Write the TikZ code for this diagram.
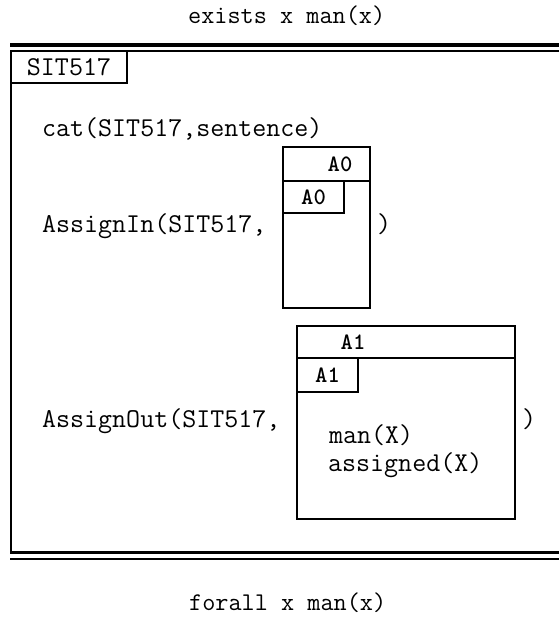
\documentclass[tikz,border=0pt]{standalone}
\begin{document}
\begin{tikzpicture}[x=1pt,y=-1pt,
  tt/.style={font=\fontsize{27.2}{32}\selectfont\ttfamily, inner sep=0pt, anchor=base west},
  ttsmall/.style={font=\fontsize{25.5}{30}\selectfont\ttfamily, inner sep=0pt, anchor=base west},
  lbl/.style={font=\fontsize{23.5}{28}\selectfont\ttfamily\bfseries, inner sep=0pt},
  frame/.style={line width=2pt},
  thickrule/.style={line width=3.2pt}]
\useasboundingbox (0,0) rectangle (559,619);
\clip (0,0) rectangle (559,619);
% outer rules and frame
\draw[thickrule] (10,45) -- (560,45);
\draw[line width=1.8pt] (10,51) -- (560,51);
\draw[frame] (11,50) -- (11,553);
\draw[line width=3pt] (10,552) -- (560,552);
\draw[frame] (10,559) -- (560,559);
% SIT517 tab
\draw[frame] (11,51) rectangle (127,83);
\node[lbl, font=\fontsize{27.2}{32}\selectfont\ttfamily] (sit) at (69,67) {SIT517};
% texts
\node[ttsmall] (top) at (188,23) {exists x man(x)};
\node[tt] (cat) at (42,136) {cat(SIT517,sentence)};
\node[tt] (ain) at (42,232) {AssignIn(SIT517,};
\node[tt] (ainclose) at (377,232) {)};
\node[tt] (aout) at (42,427) {AssignOut(SIT517,};
\node[tt] (aoutclose) at (522,427) {)};
\node[ttsmall] (bot) at (189,610) {forall x man(x)};
% A0 box
\draw[frame] (283,147) rectangle (370,308);
\draw[frame] (283,181) -- (370,181);
\draw[frame] (283,181) rectangle (344,213);
\node[lbl] (a0head) at (340,164) {A0};
\node[lbl] (a0tab) at (313.5,197) {A0};
% A1 box
\draw[frame] (297,326) rectangle (515,519);
\draw[frame] (297,358) -- (515,358);
\draw[frame] (297,358) rectangle (358,392);
\node[lbl] (a1head) at (353,342) {A1};
\node[lbl] (a1tab) at (327.5,375) {A1};
\node[tt] (man) at (329,443) {man(X)};
\node[tt] (asg) at (328,471) {assigned(X)};
\end{tikzpicture}
\end{document}
